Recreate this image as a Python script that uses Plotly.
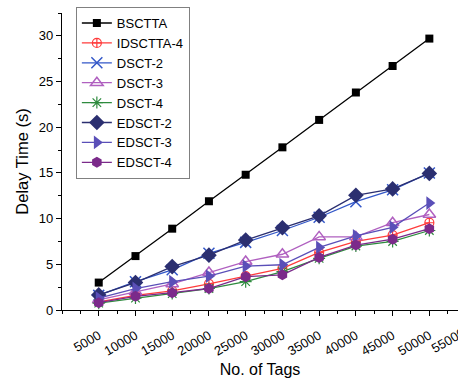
import plotly.graph_objects as go

# Number of tags
tags = [5000, 10000, 15000, 20000, 25000, 30000, 35000, 40000, 45000, 50000]

# Delay time (s) per protocol
bsctta = [3.0, 5.9, 8.9, 11.9, 14.8, 17.8, 20.8, 23.8, 26.7, 29.7]
idsctta_4 = [0.9, 1.6, 2.1, 2.85, 3.7, 4.55, 6.3, 7.5, 8.2, 9.55]
dsct_2 = [1.6, 3.1, 4.4, 6.2, 7.4, 8.7, 10.15, 11.85, 13.15, 15.0]
dsct_3 = [1.1, 2.0, 2.85, 4.1, 5.3, 6.1, 8.0, 8.0, 9.55, 10.45]
dsct_4 = [0.75, 1.3, 1.8, 2.35, 3.1, 4.2, 5.65, 7.0, 7.5, 8.7]
edsct_2 = [1.65, 3.0, 4.75, 6.0, 7.65, 9.0, 10.3, 12.55, 13.25, 14.95]
edsct_3 = [1.3, 2.35, 3.1, 3.7, 4.8, 4.95, 6.85, 8.1, 9.05, 11.7]
edsct_4 = [0.8, 1.5, 1.9, 2.35, 3.65, 3.85, 5.75, 7.1, 7.75, 8.9]

x_tick_vals = [5000, 10000, 15000, 20000, 25000, 30000, 35000, 40000, 45000, 50000]
x_tick_text = [str(v) for v in x_tick_vals]
y_tick_vals = [0, 5, 10, 15, 20, 25, 30]
x_max = 53900
y_max = 32.5
tick_angle = -30

series = [
    ("BSCTTA", bsctta, "#000000", "square", 8, 0),
    ("IDSCTTA-4", idsctta_4, "#ff3b3b", "circle-cross-open", 9, 1.2),
    ("DSCT-2", dsct_2, "#3357c8", "x-thin-open", 11, 1.5),
    ("DSCT-3", dsct_3, "#b060c0", "triangle-up-open", 11, 1.5),
    ("DSCT-4", dsct_4, "#2e8b3e", "asterisk-open", 10, 1.2),
    ("EDSCT-2", edsct_2, "#2b2f70", "diamond", 12, 0),
    ("EDSCT-3", edsct_3, "#5a4fb8", "triangle-right", 12, 0),
    ("EDSCT-4", edsct_4, "#7b2a8a", "hexagon", 11, 0),
]

fig = go.Figure()
for name, vals, color, symbol, size, mlw in series:
    fig.add_trace(go.Scatter(
        x=tags, y=vals, name=name, mode="lines+markers",
        line=dict(color=color, width=1.3),
        marker=dict(symbol=symbol, size=size, color=color,
                    line=dict(color=color, width=mlw)),
        cliponaxis=False,
    ))

font_family = "Liberation Sans, Arial, sans-serif"

fig.update_layout(
    width=458, height=378,
    margin=dict(l=62, r=0, t=13, b=68),
    paper_bgcolor="white", plot_bgcolor="white",
    font=dict(family=font_family, color="#000000"),
    showlegend=True,
    legend=dict(
        x=0.035, y=1.02, xanchor="left", yanchor="top",
        bordercolor="#808080", borderwidth=1, bgcolor="white",
        font=dict(size=13, family=font_family),
        itemwidth=30, tracegroupgap=0,
    ),
    xaxis=dict(
        range=[0, x_max],
        tickmode="array", tickvals=x_tick_vals, ticktext=x_tick_text,
        tickangle=tick_angle, tickfont=dict(size=13),
        ticklabelstandoff=7,
        ticks="outside", ticklen=5, tickwidth=1, tickcolor="black",
        minor=dict(tick0=0, dtick=2500, ticks="outside", ticklen=3, tickcolor="black"),
        showline=True, linecolor="black", linewidth=1.2, mirror=False,
        showgrid=False, zeroline=False,
        title=dict(text="No. of Tags", font=dict(size=16), standoff=6),
    ),
    yaxis=dict(
        range=[0, y_max],
        tickmode="array", tickvals=y_tick_vals,
        tickfont=dict(size=13),
        ticks="outside", ticklen=5, tickwidth=1, tickcolor="black",
        minor=dict(tick0=0, dtick=2.5, ticks="outside", ticklen=3, tickcolor="black"),
        showline=True, linecolor="black", linewidth=1.2, mirror=False,
        showgrid=False, zeroline=False,
        title=dict(text="Delay Time (s)", font=dict(size=16.5), standoff=6),
    ),
)

# Next tick label past the visible end of the axis
fig.add_annotation(
    text="55000", xref="paper", yref="paper",
    x=55000 / x_max, y=0, xanchor="right", yanchor="top",
    xshift=4, yshift=-12, textangle=tick_angle, showarrow=False,
    font=dict(size=13, family=font_family),
)

fig.write_html("out.html")
